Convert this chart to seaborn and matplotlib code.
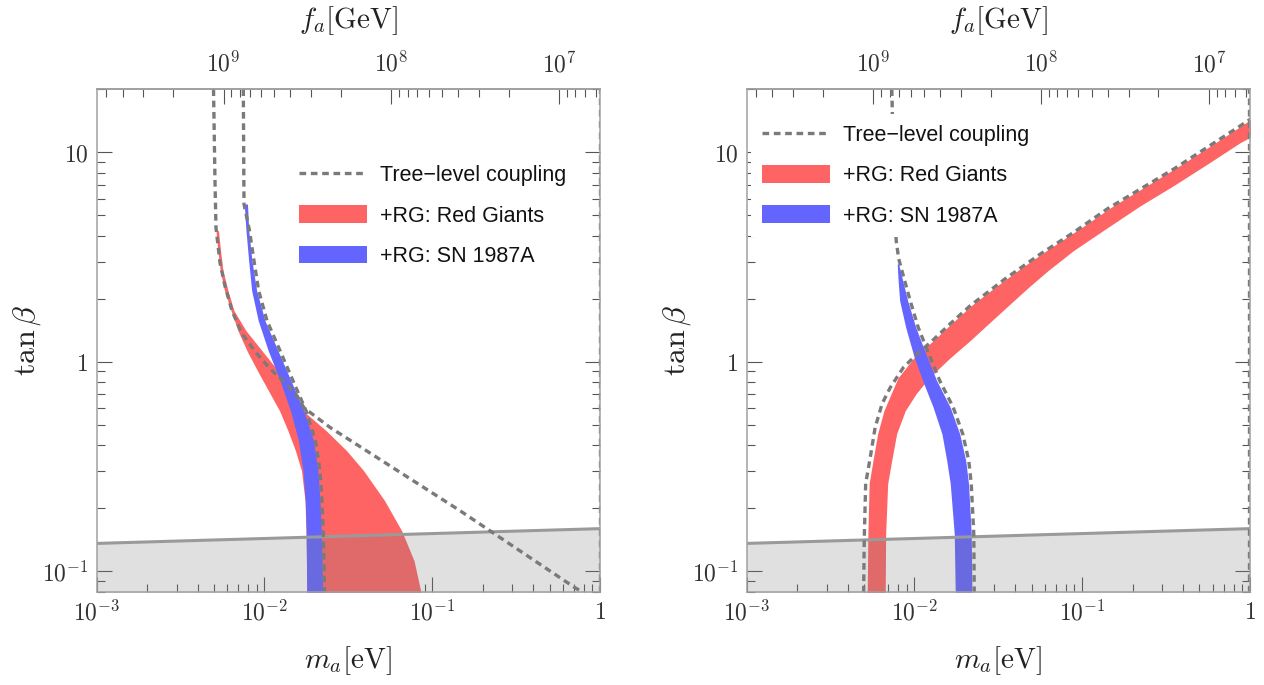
import numpy as np
import pandas as pd
import matplotlib
matplotlib.use("Agg")
import matplotlib.pyplot as plt
import seaborn as sns
from matplotlib.lines import Line2D
from matplotlib.patches import Patch
from matplotlib.ticker import FixedLocator, FixedFormatter, LogLocator, NullFormatter

# ---------------- data ----------------
M_LIM = (1e-3, 1.0)          # m_a [eV]
TB_LIM = (0.08, 20.0)        # tan(beta)
FA_TIMES_MA = 5.7e6          # f_a[GeV] * m_a[eV]

x_ticks = [1e-3, 1e-2, 1e-1, 1.0]
x_ticklabels = [r"$10^{-3}$", r"$10^{-2}$", r"$10^{-1}$", r"$1$"]
y_ticks = [0.1, 1.0, 10.0]
y_ticklabels = [r"$10^{-1}$", r"$1$", r"$10$"]
fa_ticks = [1e9, 1e8, 1e7]
fa_ticklabels = [r"$10^{9}$", r"$10^{8}$", r"$10^{7}$"]

legend_labels = ["Tree\u2212level coupling", "+RG: Red Giants", "+RG: SN 1987A"]

# lower excluded (grey) region boundary
bound_m = [1e-3, 1.0]
bound_tb = [0.136, 0.160]

# ---- left panel ----
L_rg_tb = [4.23, 3.395, 2.725, 2.188, 1.756, 1.409, 1.131, 0.908, 0.7286, 0.585, 0.4694, 0.3768, 0.3025, 0.2176, 0.1564, 0.1125, 0.0794]
L_rg_mlo = [5.14e-3, 5.27e-3, 5.45e-3, 5.78e-3, 6.32e-3, 6.95e-3, 7.86e-3, 9.08e-3, 1.056e-2, 1.229e-2, 1.380e-2, 1.530e-2, 1.662e-2, 1.744e-2, 1.768e-2, 1.779e-2, 1.792e-2]
L_rg_mhi = [5.32e-3, 5.47e-3, 5.66e-3, 6.06e-3, 6.58e-3, 7.76e-3, 9.66e-3, 1.204e-2, 1.343e-2, 1.696e-2, 2.332e-2, 3.09e-2, 3.90e-2, 5.20e-2, 6.57e-2, 7.79e-2, 8.57e-2]

L_sn_tb = [5.67, 4.23, 3.04, 2.19, 1.573, 1.131, 0.813, 0.585, 0.4206, 0.3025, 0.2176, 0.1564, 0.1125, 0.0794]
L_sn_mlo = [7.58e-3, 7.76e-3, 8.05e-3, 8.39e-3, 9.18e-3, 1.053e-2, 1.238e-2, 1.428e-2, 1.594e-2, 1.696e-2, 1.750e-2, 1.772e-2, 1.779e-2, 1.784e-2]
L_sn_mhi = [7.92e-3, 8.06e-3, 8.42e-3, 8.98e-3, 1.007e-2, 1.204e-2, 1.438e-2, 1.719e-2, 1.959e-2, 2.084e-2, 2.142e-2, 2.181e-2, 2.202e-2, 2.222e-2]

L_tree_rg_m = [4.97e-3, 5.07e-3, 5.14e-3, 5.43e-3, 5.81e-3, 6.40e-3, 7.34e-3, 9.02e-3, 1.079e-2, 1.325e-2, 1.562e-2, 1.719e-2, 2.457e-2, 0.1463, 0.709, 0.80]
L_tree_rg_tb = [20.0, 7.33, 4.37, 2.975, 2.31, 1.756, 1.363, 1.094, 0.928, 0.796, 0.690, 0.604, 0.487, 0.1949, 0.0836, 0.0791]

L_tree_sn_m = [7.48e-3, 7.55e-3, 8.14e-3, 8.66e-3, 9.23e-3, 1.035e-2, 1.238e-2, 1.479e-2, 1.768e-2, 2.013e-2, 2.142e-2, 2.202e-2, 2.241e-2, 2.262e-2, 2.278e-2]
L_tree_sn_tb = [20.0, 5.67, 4.23, 3.04, 2.19, 1.573, 1.131, 0.813, 0.585, 0.4206, 0.3025, 0.2176, 0.1564, 0.1125, 0.0794]

tree_edge_m = [0.995, 0.995]
tree_edge_tb = [0.08, 20.0]

# ---- right panel ----
R_rg_tb = [0.0794, 0.1514, 0.2622, 0.3376, 0.4544, 0.5848, 0.7053, 0.8407, 1.036, 1.262, 1.489, 1.855, 2.261, 2.725, 3.395, 4.371, 5.567, 6.935, 8.835, 11.12, 13.41, 15.81]
R_rg_mlo = [5.24e-3, 5.29e-3, 5.38e-3, 5.67e-3, 6.05e-3, 6.59e-3, 7.28e-3, 8.01e-3, 9.85e-3, 1.296e-2, 1.615e-2, 2.185e-2, 3.01e-2, 4.128e-2, 6.12e-2, 9.90e-2, 0.1541, 0.2435, 0.3995, 0.6242, 0.892, 1.207]
R_rg_mhi = [6.71e-3, 6.75e-3, 6.94e-3, 7.33e-3, 7.85e-3, 8.83e-3, 1.026e-2, 1.227e-2, 1.615e-2, 2.146e-2, 2.689e-2, 3.633e-2, 4.771e-2, 6.26e-2, 8.87e-2, 0.1416, 0.2228, 0.3505, 0.5630, 0.874, 1.347, 1.874]

R_sn_tb = [2.933, 2.441, 1.960, 1.461, 1.051, 0.8133, 0.6065, 0.4527, 0.3376, 0.2622, 0.1514, 0.0794]
R_sn_mlo = [7.91e-3, 8.01e-3, 8.18e-3, 8.89e-3, 9.99e-3, 1.122e-2, 1.296e-2, 1.462e-2, 1.561e-2, 1.638e-2, 1.730e-2, 1.754e-2]
R_sn_mhi = [8.07e-3, 8.53e-3, 9.13e-3, 1.020e-2, 1.194e-2, 1.360e-2, 1.638e-2, 1.866e-2, 2.026e-2, 2.105e-2, 2.185e-2, 2.206e-2]

R_tree_rg_m = [4.99e-3, 5.03e-3, 5.13e-3, 5.46e-3, 5.84e-3, 6.43e-3, 7.18e-3, 8.59e-3, 1.041e-2, 1.244e-2, 1.638e-2, 2.156e-2, 3.486e-2, 5.64e-2, 8.91e-2, 0.1410, 0.2228, 0.3520, 0.5568, 0.880, 1.038]
R_tree_rg_tb = [0.0794, 0.140, 0.2622, 0.3488, 0.4853, 0.6318, 0.7530, 0.9382, 1.094, 1.235, 1.521, 1.855, 2.495, 3.273, 4.151, 5.367, 6.69, 8.334, 10.57, 13.41, 14.64]

R_tree_sn_m = [7.35e-3, 7.43e-3, 7.59e-3, 7.80e-3, 8.07e-3, 8.76e-3, 9.45e-3, 1.055e-2, 1.244e-2, 1.418e-2, 1.706e-2, 1.945e-2, 2.112e-2, 2.185e-2, 2.262e-2, 2.277e-2]
R_tree_sn_tb = [20.0, 12.7, 5.88, 3.79, 3.11, 2.441, 1.960, 1.461, 1.051, 0.8133, 0.6065, 0.4527, 0.3376, 0.2622, 0.1514, 0.0794]

# ---------------- styling ----------------
RED = "#ff6464"
BLUE = "#6464ff"
DASH = "#7a7a7a"
GREY_LINE = "#9a9a9a"
FRAME = "#a0a0a0"
TICKC = "#555555"
LABC = "#333333"
DASH_PATTERN = (0, (2.0, 1.4))

sns.set_theme(style="white")
plt.rcParams["font.family"] = ["DejaVu Sans"]
plt.rcParams["mathtext.fontset"] = "cm"

fig = plt.figure(figsize=(12.64, 6.85), dpi=100)
axL = fig.add_axes([0.0765, 0.1362, 0.3982, 0.7334])
axR = fig.add_axes([0.5906, 0.1362, 0.3982, 0.7334])


def dashed(ax, m, tb, clip=True):
    n0 = len(ax.lines)
    df = pd.DataFrame({"m": m, "tb": tb})
    sns.lineplot(data=df, x="m", y="tb", sort=False, estimator=None, ax=ax,
                 color=DASH, lw=2.4, zorder=5, legend=False)
    for ln in ax.lines[n0:]:
        ln.set_linestyle(DASH_PATTERN)
        ln.set_dash_capstyle("butt")
        ln.set_clip_on(clip)


def panel(ax, rg, sn, tree_rg, tree_sn, leg_anchor):
    ax.set_xscale("log")
    ax.set_yscale("log")
    ax.set_xlim(*M_LIM)
    ax.set_ylim(*TB_LIM)

    ax.fill_betweenx(rg[0], rg[1], rg[2], color=RED, lw=0, zorder=1)
    ax.fill_betweenx(sn[0], sn[1], sn[2], color=BLUE, lw=0, zorder=2)

    ax.fill_between(bound_m, [1e-3, 1e-3], bound_tb, color="#808080", alpha=0.24, lw=0, zorder=3)
    sns.lineplot(x=bound_m, y=bound_tb, ax=ax, color=GREY_LINE, lw=2.2, zorder=4, legend=False)

    dashed(ax, tree_rg[0], tree_rg[1])
    dashed(ax, tree_sn[0], tree_sn[1])
    dashed(ax, tree_edge_m, tree_edge_tb)

    for s in ax.spines.values():
        s.set_color(FRAME)
        s.set_linewidth(1.1)
        s.set_visible(True)
        s.set_zorder(6)

    ax.xaxis.set_major_locator(FixedLocator(x_ticks))
    ax.xaxis.set_major_formatter(FixedFormatter(x_ticklabels))
    ax.xaxis.set_minor_locator(LogLocator(base=10, subs=np.arange(2, 10)))
    ax.xaxis.set_minor_formatter(NullFormatter())
    ax.yaxis.set_major_locator(FixedLocator(y_ticks))
    ax.yaxis.set_major_formatter(FixedFormatter(y_ticklabels))
    ax.yaxis.set_minor_locator(LogLocator(base=10, subs=np.arange(2, 10)))
    ax.yaxis.set_minor_formatter(NullFormatter())

    ax.tick_params(which="both", direction="in", color=TICKC, width=0.8,
                   bottom=True, left=True, right=True, top=False, labelsize=17,
                   labelcolor=LABC, pad=6)
    ax.tick_params(which="major", length=10.5)
    ax.tick_params(which="minor", length=5.5)

    ax.set_xlabel(r"$m_a[\mathrm{eV}]$", fontsize=21, color="#222222", labelpad=14)
    ax.set_ylabel(r"$\tan\beta$", fontsize=23, color="#222222", labelpad=-1)

    sec = ax.secondary_xaxis("top", functions=(lambda m: FA_TIMES_MA / np.asarray(m),
                                                 lambda f: FA_TIMES_MA / np.asarray(f)))
    sec.xaxis.set_major_locator(FixedLocator(fa_ticks))
    sec.xaxis.set_major_formatter(FixedFormatter(fa_ticklabels))
    sec.xaxis.set_minor_locator(LogLocator(base=10, subs=np.arange(2, 10)))
    sec.xaxis.set_minor_formatter(NullFormatter())
    sec.tick_params(which="both", direction="in", color=TICKC, width=0.8,
                    labelsize=17, labelcolor=LABC, pad=9)
    sec.tick_params(which="major", length=10.5)
    sec.tick_params(which="minor", length=5.5)
    sec.spines["top"].set_color(FRAME)
    sec.set_xlabel(r"$f_a[\mathrm{GeV}]$", fontsize=21, color="#222222", labelpad=17)

    handles = [Line2D([0], [0], color=DASH, lw=2.4, linestyle=DASH_PATTERN),
               Patch(facecolor=RED, edgecolor="none"),
               Patch(facecolor=BLUE, edgecolor="none")]
    leg = ax.legend(handles, legend_labels, loc="upper left", bbox_to_anchor=leg_anchor,
                    frameon=True, fancybox=False, framealpha=1.0, borderaxespad=0,
                    borderpad=0.5, handlelength=3.15, handleheight=0.9, handletextpad=0.62,
                    labelspacing=0.88, prop={"family": "Liberation Sans", "size": 15.5})
    leg.get_frame().set_facecolor("white")
    leg.get_frame().set_edgecolor("none")
    leg.set_zorder(7)
    for t in leg.get_texts():
        t.set_color("#111111")


panel(axL, (L_rg_tb, L_rg_mlo, L_rg_mhi), (L_sn_tb, L_sn_mlo, L_sn_mhi),
      (L_tree_rg_m, L_tree_rg_tb), (L_tree_sn_m, L_tree_sn_tb), (0.381, 0.871))
panel(axR, (R_rg_tb, R_rg_mlo, R_rg_mhi), (R_sn_tb, R_sn_mlo, R_sn_mhi),
      (R_tree_rg_m, R_tree_rg_tb), (R_tree_sn_m, R_tree_sn_tb), (0.0094, 0.951))

fig.savefig("out.png", dpi=100, facecolor="white")
